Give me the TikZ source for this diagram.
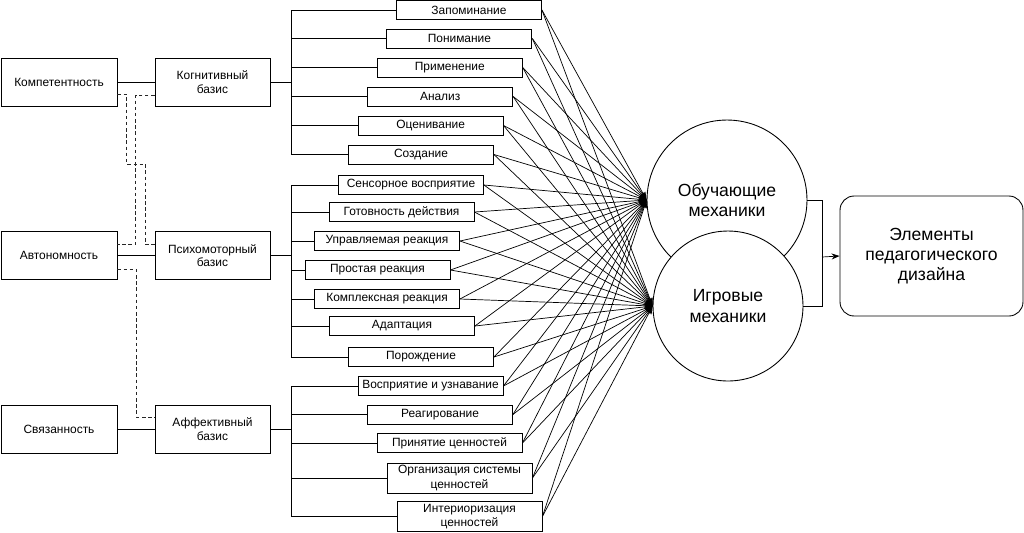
\documentclass[tikz,border=0pt]{standalone}
\usepackage{fontspec}
\setmainfont{Liberation Sans}
\usepackage{tikz}
\usetikzlibrary{positioning, arrows.meta, calc}
\tikzset{
  rootbox/.style={
    rectangle, draw=black, line width=0.5pt,
    inner sep=1pt,
    minimum width=2.32cm, minimum height=0.96cm,
    align=center, font=\fontsize{6.8}{7.8}\selectfont
  },
  basisbox/.style={rootbox, minimum width=2.3cm},
  levelbox/.style={
    rectangle, draw=black, line width=0.5pt,
    inner sep=1pt,
    minimum width=2.9cm, minimum height=0.38cm,
    align=center, font=\fontsize{6.8}{8}\selectfont
  },
  mech/.style={
    circle, draw=black, fill=white, line width=0.5pt,
    inner sep=0pt, align=center,
    font=\fontsize{10}{11.5}\selectfont
  },
  resultbox/.style={
    rectangle, rounded corners=8pt,
    draw=black, line width=0.5pt,
    minimum width=3.66cm, minimum height=2.4cm,
    align=center, font=\fontsize{10}{11.5}\selectfont
  },
  link/.style={black, line width=0.5pt},
  dashlink/.style={black!85, line width=0.5pt, dash pattern=on 2pt off 1.5pt},
  arrow/.style={-{Stealth[length=1.6mm, width=1.2mm]}, black, line width=0.4pt}
}

\begin{document}
\begin{tikzpicture}[x=0.02cm, y=-0.02cm]
      \useasboundingbox (0,0) rectangle (1024,532);
      % needs and bases
      \node[rootbox] (komp) at (59, 82) {Компетентность};
      \node[rootbox] (avt) at (59, 255.5) {Автономность};
      \node[rootbox] (svz) at (59, 429) {Связанность};
      \node[basisbox] (kog) at (212.5, 82) {Когнитивный\\базис};
      \node[basisbox] (psy) at (212.5, 255.5) {Психомоторный\\базис};
      \node[basisbox] (aff) at (212.5, 429) {Аффективный\\базис};
      % cognitive levels
      \node[levelbox] (k1) at (469, 10) {Запоминание};
      \node[levelbox] (k2) at (459.4, 38.5) {Понимание};
      \node[levelbox] (k3) at (449.8, 67.5) {Применение};
      \node[levelbox] (k4) at (440.2, 96.5) {Анализ};
      \node[levelbox] (k5) at (430.6, 125.5) {Оценивание};
      \node[levelbox] (k6) at (421, 154.5) {Создание};
      % psychomotor levels
      \node[levelbox] (p1) at (411, 185) {Сенсорное восприятие};
      \node[levelbox] (p2) at (401.5, 212) {Готовность действия};
      \node[levelbox] (p3) at (387, 241) {Управляемая реакция};
      \node[levelbox] (p4) at (377.5, 270) {Простая реакция};
      \node[levelbox] (p5) at (387, 299) {Комплексная реакция};
      \node[levelbox] (p6) at (402, 326) {Адаптация};
      \node[levelbox] (p7) at (421, 357) {Порождение};
      % affective levels
      \node[levelbox] (a1) at (430.5, 386) {Восприятие и узнавание};
      \node[levelbox] (a2) at (440, 414.5) {Реагирование};
      \node[levelbox] (a3) at (449.5, 443) {Принятие ценностей};
      \node[levelbox, minimum height=0.6cm] (a4) at (459.5, 478) {Организация системы\\ценностей};
      \node[levelbox, minimum height=0.6cm] (a5) at (469.5, 516.5) {Интериоризация\\ценностей};
      % mechanics and result
      \node[mech, minimum size=3.2cm] (obu) at (727, 200) {Обучающие\\механики};
      \node[mech, minimum size=3.0cm] (igr) at (728, 306) {Игровые\\механики};
      \node[resultbox] (elem) at (931.5, 256) {Элементы\\педагогического\\дизайна};
      \coordinate (kogbus) at (291, 82);
      \coordinate (psybus) at (291, 255.5);
      \coordinate (affbus) at (291, 429);
      \coordinate (join) at (822, 257);
      % solid and dashed links on the left
      \draw[link] (komp) -- (kog);
      \draw[link] (avt) -- (psy);
      \draw[link] (svz) -- (aff);
      \draw[dashlink] ($(komp.east)+(0,12)$) -- ++(9,0) -- ++(0,70) -| ($(psy.west)+(-9,-11)$) -- ($(psy.west)+(0,-11)$);
      \draw[dashlink] ($(kog.west)+(0,13)$) -- ++(-19,0) |- ($(avt.east)+(0,-11)$);
      \draw[dashlink] ($(avt.east)+(0,14)$) -- ++(19,0) |- ($(aff.west)+(0,-12)$);
      % brackets
      \draw[link] (kog) -- (kogbus);
      \draw[link] (psy) -- (psybus);
      \draw[link] (aff) -- (affbus);
      \draw[link] (kogbus |- k1.west) -- (kogbus |- k6.west);
      \draw[link] (psybus |- p1.west) -- (psybus |- p7.west);
      \draw[link] (affbus |- a1.west) -- (affbus |- a5.west);
      \foreach \i in {1,...,6} \draw[link] (kogbus |- k\i.west) -- (k\i.west);
      \foreach \i in {1,...,7} \draw[link] (psybus |- p\i.west) -- (p\i.west);
      \foreach \i in {1,...,5} \draw[link] (affbus |- a\i.west) -- (a\i.west);
      % every level feeds both mechanics
      \foreach \g/\m in {k/6, p/7, a/5} {
        \foreach \i in {1,...,\m} {
          \draw[arrow] (\g\i.east) -- (obu.west);
          \draw[arrow] (\g\i.east) -- (igr.west);
        }
      }
      \draw[link] (obu.east) -| (join);
      \draw[link] (igr.east) -| (join);
      \draw[arrow] (join) -- (elem.west);
    \end{tikzpicture}
\end{document}
